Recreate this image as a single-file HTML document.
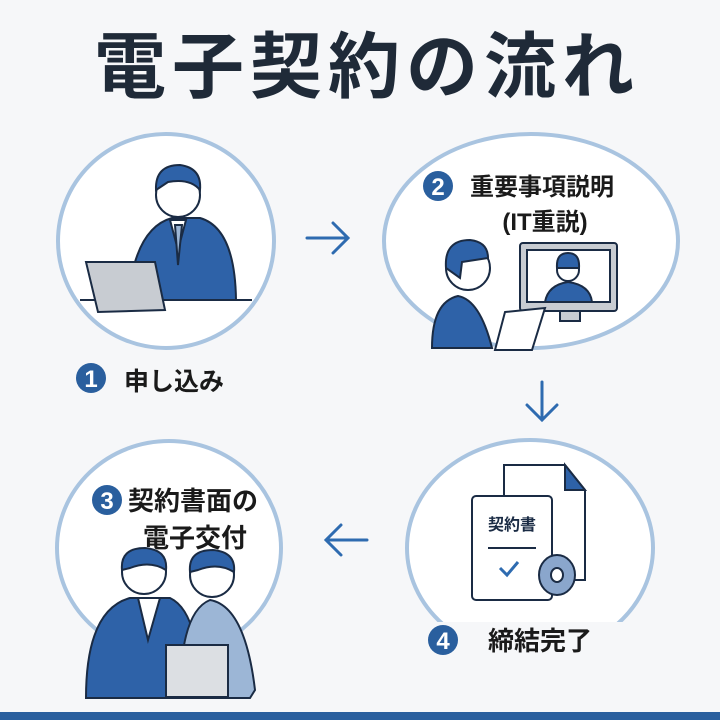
<!DOCTYPE html>
<html><head><meta charset="utf-8"><style>
html,body{margin:0;padding:0;background:#f6f7f9;}
svg{display:block}
text{font-family:"Liberation Sans","Noto Sans CJK JP",sans-serif;font-weight:bold;}
</style></head><body>
<svg width="720" height="720" viewBox="0 0 720 720" xmlns="http://www.w3.org/2000/svg">
<rect width="720" height="720" fill="#f6f7f9"/>
<text x="367" y="92" font-size="72" fill="#1f2a38" text-anchor="middle" letter-spacing="6">電子契約の流れ</text>

<!-- circles -->
<ellipse cx="166" cy="241" rx="108" ry="107" fill="#fff" stroke="#a9c4e0" stroke-width="4"/>
<ellipse cx="531" cy="241" rx="147" ry="107" fill="#fff" stroke="#a9c4e0" stroke-width="4"/>
<ellipse cx="169" cy="548" rx="112" ry="107" fill="#fff" stroke="#a9c4e0" stroke-width="4"/>
<ellipse cx="530" cy="548" rx="123" ry="108" fill="#fff" stroke="#a9c4e0" stroke-width="4"/>
<rect x="400" y="622" width="260" height="60" fill="#f6f7f9"/>

<!-- arrows -->
<g stroke="#2e6bb0" stroke-width="3" fill="none" stroke-linecap="round">
<path d="M307 238 H348 M333 223 L348 238 L333 253"/>
<path d="M542 382 V420 M527 405 L542 420 L557 405"/>
<path d="M367 540 H326 M341 525 L326 540 L341 555"/>
</g>

<!-- scene 1 -->
<g stroke="#1a2b44" stroke-width="2">
<path d="M128 300 Q135 228 172 218 L200 218 Q235 228 236 300 Z" fill="#2e62a8"/>
<path d="M170 220 L178 250 L186 220 Z" fill="#fff"/>
<path d="M175 225 L178 265 L182 225 Z" fill="#9cb6d6"/>
<circle cx="178" cy="195" r="22" fill="#fff"/>
<path d="M156 190 Q155 165 180 165 Q202 168 200 190 Q190 178 168 182 Z" fill="#2e62a8"/>
<path d="M80 300 H252" />
<path d="M86 262 L155 262 L165 310 L98 312 Z" fill="#c8ccd2"/>
</g>

<!-- scene 2 -->
<g stroke="#1a2b44" stroke-width="2">
<rect x="520" y="243" width="97" height="68" fill="#c8ccd2" rx="3"/>
<rect x="527" y="250" width="83" height="52" fill="#fff"/>
<path d="M545 302 Q548 285 568 282 Q590 285 592 302 Z" fill="#2e62a8"/>
<circle cx="568" cy="270" r="11" fill="#fff"/>
<path d="M557 268 Q556 253 568 253 Q580 253 579 268 Z" fill="#2e62a8"/>
<rect x="560" y="311" width="20" height="10" fill="#c8ccd2"/>
<path d="M432 348 Q432 302 458 296 Q480 300 492 348 Z" fill="#2e62a8"/>
<circle cx="468" cy="268" r="22" fill="#fff"/>
<path d="M446 268 Q444 240 470 240 Q488 242 488 258 L462 262 L460 278 Z" fill="#2e62a8"/>
<path d="M505 312 L545 308 L532 350 L495 350 Z" fill="#fff"/>
</g>

<!-- scene 3 -->
<g stroke="#1a2b44" stroke-width="2">
<path d="M86 698 Q86 610 130 598 L170 598 Q200 612 200 698 Z" fill="#2e62a8"/>
<path d="M138 598 L148 640 L160 598 Z" fill="#fff"/>
<circle cx="144" cy="572" r="22" fill="#fff"/>
<path d="M122 570 Q120 548 145 548 Q168 550 166 570 Q150 560 130 568 Z" fill="#2e62a8"/>
<path d="M180 698 Q180 612 210 600 Q245 606 255 690 L250 698 Z" fill="#9cb6d6"/>
<circle cx="212" cy="575" r="22" fill="#fff"/>
<path d="M190 572 Q188 550 213 550 Q236 552 234 572 Q218 562 198 570 Z" fill="#2e62a8"/>
<rect x="166" y="645" width="62" height="52" fill="#dcdfe3"/>
</g>

<!-- scene 4 -->
<g stroke="#1a2b44" stroke-width="2">
<path d="M504 465 H565 L585 490 V580 H504 Z" fill="#fff"/>
<path d="M565 465 V490 H585 Z" fill="#2e62a8"/>
<rect x="472" y="496" width="80" height="104" rx="4" fill="#fff"/>
<line x1="488" y1="548" x2="536" y2="548"/>
<path d="M500 568 L507 575 L518 562" stroke="#2e6bb0" stroke-width="3" fill="none"/>
<ellipse cx="557" cy="575" rx="18" ry="20" fill="#8aa6cc"/>
<ellipse cx="557" cy="575" rx="6" ry="7" fill="#fff"/>
</g>
<text x="512" y="530" font-size="16" fill="#1a2b44" text-anchor="middle" font-weight="normal">契約書</text>

<!-- labels -->
<circle cx="91" cy="378" r="15" fill="#2a5f9e"/><text x="91" y="387" font-size="24" fill="#fff" text-anchor="middle" font-weight="normal">1</text>
<text x="124" y="390" font-size="25" fill="#1a1a1a">申し込み</text>
<circle cx="438" cy="186" r="15" fill="#2a5f9e"/><text x="438" y="195" font-size="24" fill="#fff" text-anchor="middle" font-weight="normal">2</text>
<text x="470" y="195" font-size="24" fill="#1a1a1a">重要事項説明</text>
<text x="545" y="230" font-size="24" fill="#1a1a1a" text-anchor="middle">(IT重説)</text>
<circle cx="107" cy="500" r="15" fill="#2a5f9e"/><text x="107" y="509" font-size="24" fill="#fff" text-anchor="middle" font-weight="normal">3</text>
<text x="128" y="510" font-size="26" fill="#1a1a1a">契約書面の</text>
<text x="143" y="547" font-size="26" fill="#1a1a1a">電子交付</text>
<circle cx="443" cy="640" r="15" fill="#2a5f9e"/><text x="443" y="649" font-size="24" fill="#fff" text-anchor="middle" font-weight="normal">4</text>
<text x="488" y="650" font-size="26" fill="#1a1a1a">締結完了</text>

<rect x="0" y="712" width="720" height="8" fill="#2a5f9e"/>
</svg>
</body></html>
